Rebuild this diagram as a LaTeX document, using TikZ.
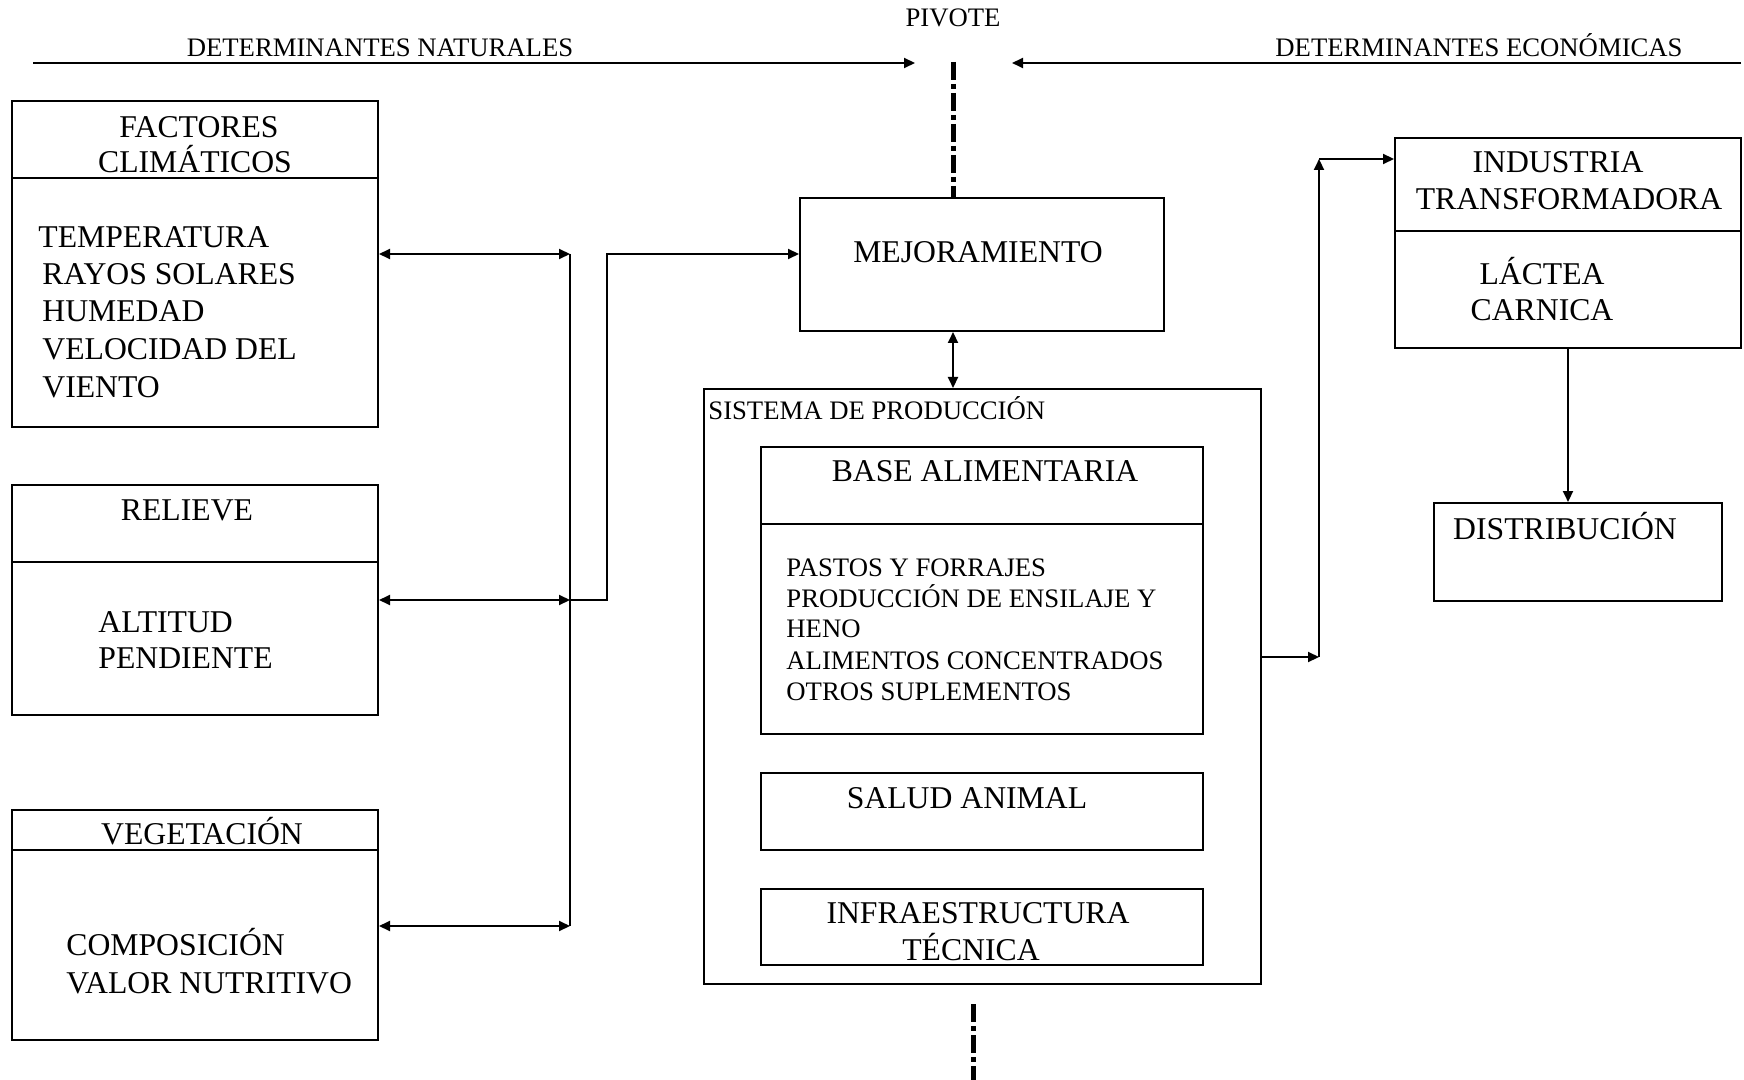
\documentclass[tikz,border=0pt]{standalone}
\usepackage{fontspec}
\setmainfont{Liberation Serif}
\usetikzlibrary{arrows.meta,fit}
\begin{document}
\begin{tikzpicture}[x=0.5pt,y=-0.5pt,
  box/.style={draw,line width=1pt,inner sep=0pt},
  big/.style={inner sep=0pt,font=\fontsize{15.85}{18}\selectfont},
  sml/.style={inner sep=0pt,font=\fontsize{13.35}{15}\selectfont},
  ln/.style={line width=1pt},
  arr/.style={line width=1pt,-{Triangle[length=5.5pt,width=5pt]}},
  darr/.style={line width=1pt,{Triangle[length=5.5pt,width=5pt]}-{Triangle[length=5.5pt,width=5pt]}},
  piv/.style={line width=2.5pt,dash pattern=on 9pt off 2pt on 2.5pt off 2pt}]
\useasboundingbox (0,0) rectangle (1744,1080);

% top labels and arrows
\node[sml,anchor=base] (pivote) at (953,27) {PIVOTE};
\node[sml,anchor=base] (detnat) at (380,57) {DETERMINANTES NATURALES};
\node[sml,anchor=base] (deteco) at (1479,57) {DETERMINANTES ECONÓMICAS};
\coordinate (natL) at (33,63);
\coordinate (natR) at (915,63);
\coordinate (ecoL) at (1741,63);
\coordinate (ecoR) at (1012,63);
\draw[arr] (natL) -- (natR);
\draw[arr] (ecoL) -- (ecoR);

% left boxes
\node[box,fit={(12,101) (378,427)}] (fact) {};
\draw[ln] (12,178) -- (378,178);
\node[big,anchor=base] (f1) at (199,138) {FACTORES};
\node[big,anchor=base] (f2) at (195,173) {CLIMÁTICOS};
\node[big,anchor=base west] (f3) at (38,248) {TEMPERATURA};
\node[big,anchor=base west] (f4) at (42,285) {RAYOS SOLARES};
\node[big,anchor=base west] (f5) at (42,322) {HUMEDAD};
\node[big,anchor=base west] (f6) at (42,360) {VELOCIDAD DEL};
\node[big,anchor=base west] (f7) at (42,397) {VIENTO};

\node[box,fit={(12,485) (378,715)}] (rel) {};
\draw[ln] (12,562) -- (378,562);
\node[big,anchor=base] (r1) at (187,520) {RELIEVE};
\node[big,anchor=base west] (r2) at (98,632) {ALTITUD};
\node[big,anchor=base west] (r3) at (98,668) {PENDIENTE};

\node[box,fit={(12,810) (378,1040)}] (veg) {};
\draw[ln] (12,850) -- (378,850);
\node[big,anchor=base] (v1) at (202,844) {VEGETACIÓN};
\node[big,anchor=base west] (v2) at (66,955) {COMPOSICIÓN};
\node[big,anchor=base west] (v3) at (66,993) {VALOR NUTRITIVO};

% left bus
\coordinate (busT) at (570,254);
\coordinate (busM) at (570,600);
\coordinate (busB) at (570,926);
\coordinate (elb) at (607,600);
\draw[ln] (busT) -- (busB);
\draw[darr] (fact.east |- busT) -- (busT);
\draw[darr] (rel.east |- busM) -- (busM);
\draw[darr] (veg.east |- busB) -- (busB);

% centre
\node[box,fit={(800,198) (1164,331)}] (mej) {};
\node[big,anchor=base] (mejt) at (978,263) {MEJORAMIENTO};
\draw[arr] (busM) -- (elb) |- (mej.west |- busT);

\node[box,fit={(704,389) (1261,984)}] (sis) {};
\node[sml,anchor=base west] (sist) at (708,419) {SISTEMA DE PRODUCCIÓN};

\node[box,fit={(761,447) (1203,734)}] (base) {};
\draw[ln] (761,524) -- (1203,524);
\node[big,anchor=base] (b1) at (985,481) {BASE ALIMENTARIA};
\node[sml,anchor=base west] (b2) at (786,576) {PASTOS Y FORRAJES};
\node[sml,anchor=base west] (b3) at (786,607) {PRODUCCIÓN DE ENSILAJE Y};
\node[sml,anchor=base west] (b4) at (786,637) {HENO};
\node[sml,anchor=base west] (b5) at (786,669) {ALIMENTOS CONCENTRADOS};
\node[sml,anchor=base west] (b6) at (786,700) {OTROS SUPLEMENTOS};

\node[box,fit={(761,773) (1203,850)}] (salud) {};
\node[big,anchor=base] (s1) at (967,808) {SALUD ANIMAL};

\node[box,fit={(761,889) (1203,965)}] (infra) {};
\node[big,anchor=base] (i1) at (978,923) {INFRAESTRUCTURA};
\node[big,anchor=base] (i2) at (971,960) {TÉCNICA};

% pivot lines
\coordinate (pivtop) at (953,62);
\draw[piv] (pivtop) -- (pivtop |- mej.north);
\draw[darr] (pivtop |- mej.south) -- (pivtop |- sis.north);
\coordinate (pivbot) at (973,1004);
\coordinate (pivend) at (973,1080);
\draw[piv] (pivbot) -- (pivend);

% right side
\node[box,fit={(1395,138) (1741,348)}] (ind) {};
\draw[ln] (1395,231) -- (1741,231);
\node[big,anchor=base] (n1) at (1558,173) {INDUSTRIA};
\node[big,anchor=base] (n2) at (1569,210) {TRANSFORMADORA};
\node[big,anchor=base] (n3) at (1542,285) {LÁCTEA};
\node[big,anchor=base] (n4) at (1542,321) {CARNICA};

\node[box,fit={(1434,503) (1722,601)}] (dist) {};
\node[big,anchor=base] (d1) at (1565,539) {DISTRIBUCIÓN};

\coordinate (rj) at (1319,657);
\coordinate (rt) at (1319,159);
\coordinate (dx) at (1568,0);
\draw[arr] (sis.east |- rj) -- (rj);
\draw[arr] (rj) -- (rt);
\draw[arr] (rt) -- (ind.west |- rt);
\draw[arr] (ind.south -| dx) -- (dist.north -| dx);
\end{tikzpicture}
\end{document}
